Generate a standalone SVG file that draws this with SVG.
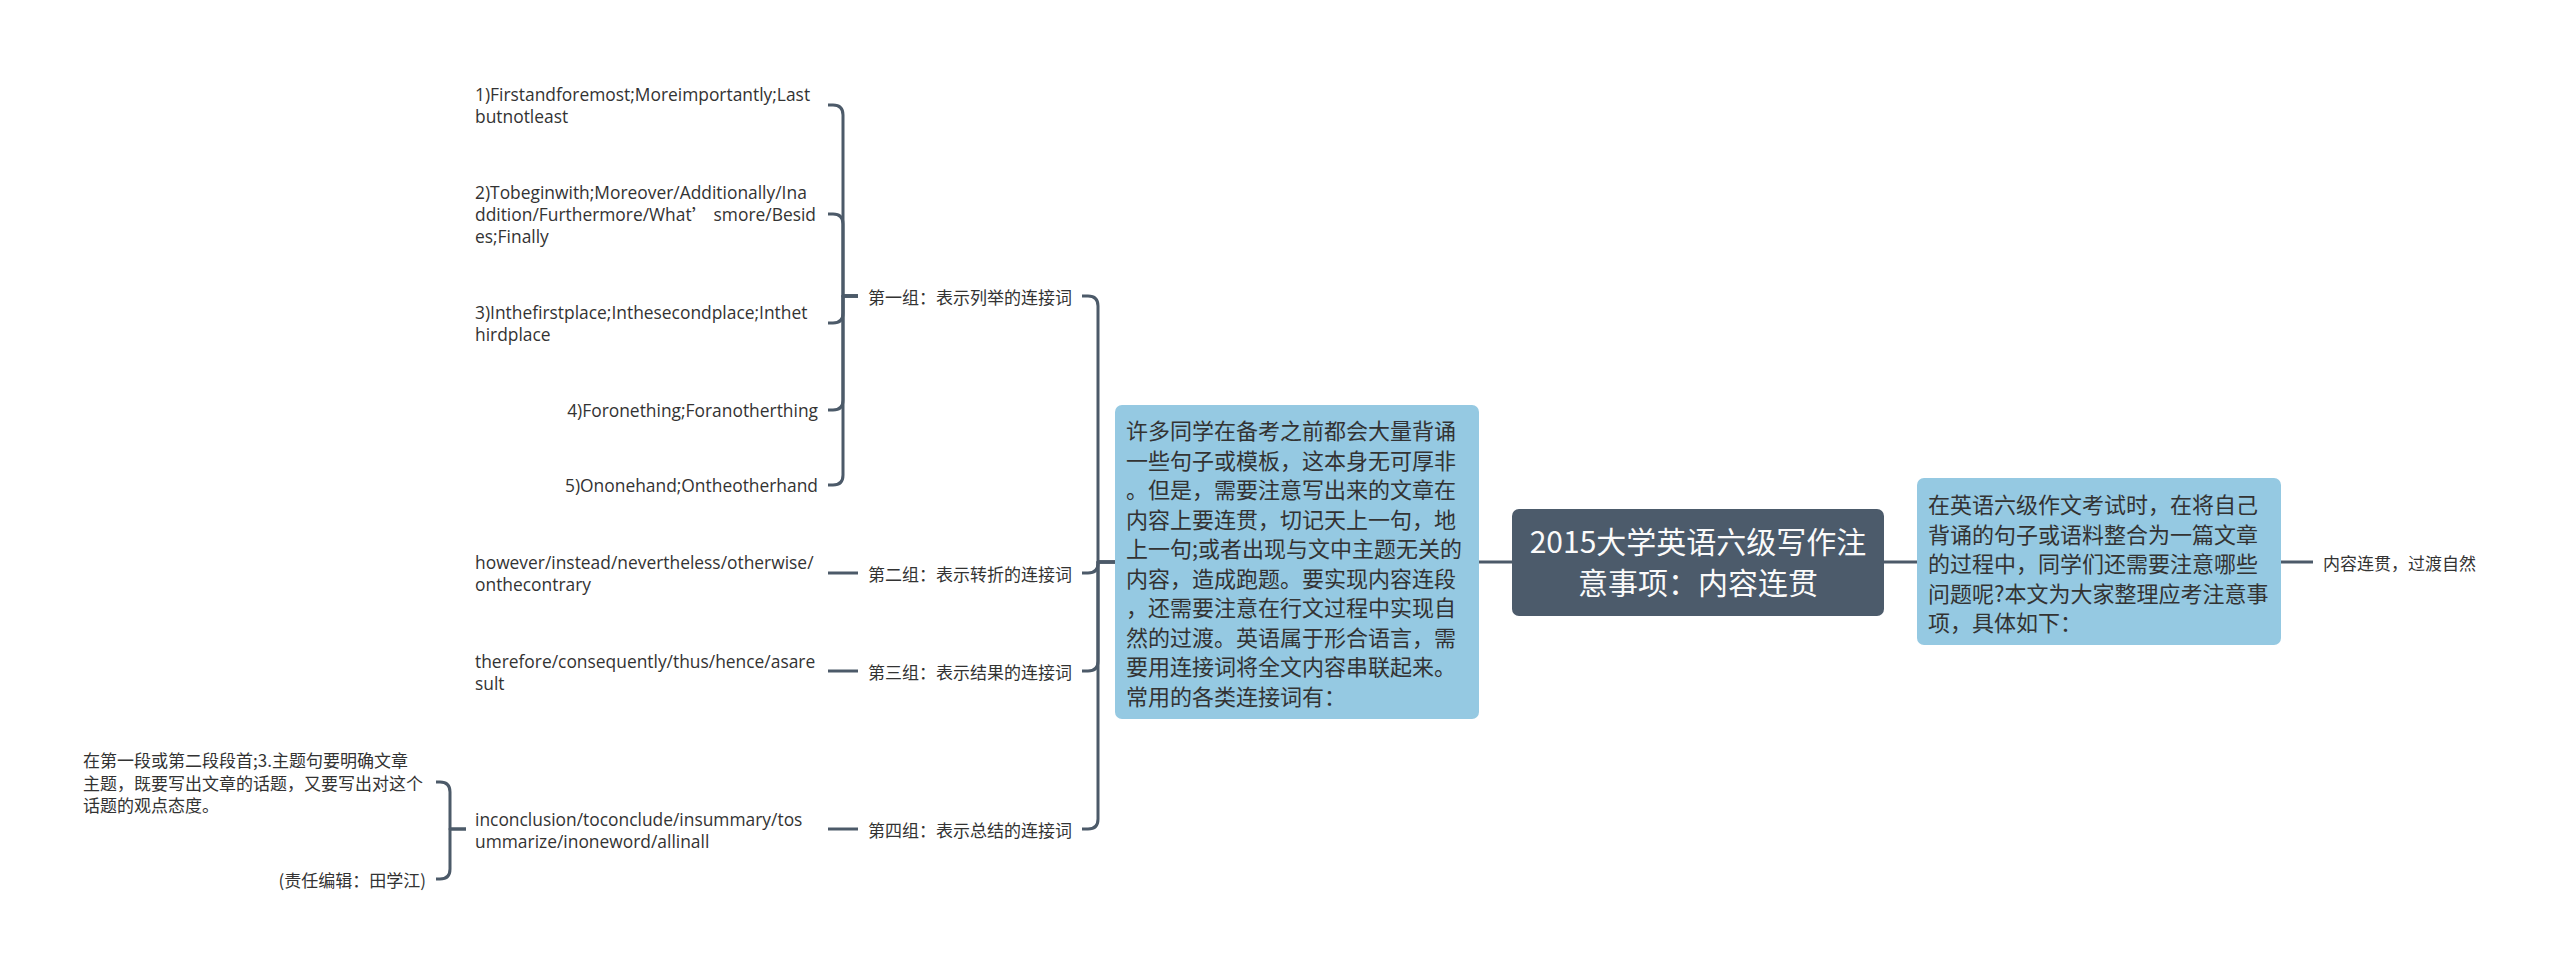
<svg xmlns="http://www.w3.org/2000/svg" width="2560" height="972" viewBox="0 0 2560 972">
<style>
.ln{fill:none;stroke:#4c5a69;stroke-width:3;stroke-linejoin:round}
.cn{font-family:"Noto Sans CJK SC",sans-serif;font-size:17px;fill:#333;dominant-baseline:central}
.en{font-family:"Open Sans","Noto Sans CJK SC",sans-serif;font-size:17.4px;fill:#333;dominant-baseline:central}
.bt{font-family:"Noto Sans CJK SC",sans-serif;font-size:22px;fill:#333;dominant-baseline:central}
.ct{font-family:"Noto Sans CJK SC",sans-serif;font-size:30px;fill:#fafafa;dominant-baseline:central;text-anchor:middle}
.blue{fill:#95c9e2}
.dark{fill:#4c5b6b}
.r{text-anchor:end}
</style>
<rect width="2560" height="972" fill="#ffffff"/>
<g id="connectors">
<path class="ln" d="M1479,562 H1512"/>
<path class="ln" d="M1884,562 H1917"/>
<path class="ln" d="M2281,562 H2313"/>
<path class="ln" d="M1115,562 H1098 V306 Q1098,296 1088,296 H1082"/>
<path class="ln" d="M1115,562 H1098 V563 Q1098,573 1088,573 H1082"/>
<path class="ln" d="M1115,562 H1098 V661 Q1098,671 1088,671 H1082"/>
<path class="ln" d="M1115,562 H1098 V819 Q1098,829 1088,829 H1082"/>
<path class="ln" d="M858,296 H843 V115 Q843,105 833,105 H828"/>
<path class="ln" d="M858,296 H843 V224 Q843,214 833,214 H828"/>
<path class="ln" d="M858,296 H843 V313 Q843,323 833,323 H828"/>
<path class="ln" d="M858,296 H843 V400 Q843,410 833,410 H828"/>
<path class="ln" d="M858,296 H843 V475 Q843,485 833,485 H828"/>
<path class="ln" d="M828,573 H858"/>
<path class="ln" d="M828,671 H858"/>
<path class="ln" d="M828,829 H858"/>
<path class="ln" d="M466,829 H450 V792 Q450,782 440,782 H436"/>
<path class="ln" d="M466,829 H450 V869 Q450,879 440,879 H436"/>
</g>
<g id="root">
<rect class="dark" x="1512" y="509" width="372" height="107" rx="7"/>
<text class="ct" x="1698" y="540">2015大学英语六级写作注</text>
<text class="ct" x="1698" y="581">意事项：内容连贯</text>
</g>
<g id="intro-left">
<rect class="blue" x="1115" y="405" width="364" height="314" rx="7"/>
<text class="bt" x="1126" y="429">许多同学在备考之前都会大量背诵</text>
<text class="bt" x="1126" y="458.5">一些句子或模板，这本身无可厚非</text>
<text class="bt" x="1126" y="488">。但是，需要注意写出来的文章在</text>
<text class="bt" x="1126" y="517.5">内容上要连贯，切记天上一句，地</text>
<text class="bt" x="1126" y="547">上一句;或者出现与文中主题无关的</text>
<text class="bt" x="1126" y="576.5">内容，造成跑题。要实现内容连段</text>
<text class="bt" x="1126" y="606">，还需要注意在行文过程中实现自</text>
<text class="bt" x="1126" y="635.5">然的过渡。英语属于形合语言，需</text>
<text class="bt" x="1126" y="665">要用连接词将全文内容串联起来。</text>
<text class="bt" x="1126" y="694.5">常用的各类连接词有：</text>
</g>
<g id="intro-right">
<rect class="blue" x="1917" y="478" width="364" height="167" rx="7"/>
<text class="bt" x="1928" y="503">在英语六级作文考试时，在将自己</text>
<text class="bt" x="1928" y="532.5">背诵的句子或语料整合为一篇文章</text>
<text class="bt" x="1928" y="562">的过程中，同学们还需要注意哪些</text>
<text class="bt" x="1928" y="591.5">问题呢?本文为大家整理应考注意事</text>
<text class="bt" x="1928" y="621">项，具体如下：</text>
</g>
<g id="right-label">
<text class="cn" x="2323" y="562">内容连贯，过渡自然</text>
</g>
<g id="group1">
<text class="cn" x="868" y="296">第一组：表示列举的连接词</text>
</g>
<g id="group2">
<text class="cn" x="868" y="573">第二组：表示转折的连接词</text>
</g>
<g id="group3">
<text class="cn" x="868" y="671">第三组：表示结果的连接词</text>
</g>
<g id="group4">
<text class="cn" x="868" y="829">第四组：表示总结的连接词</text>
</g>
<g id="item1">
<text class="en" x="475" y="94">1)Firstandforemost;Moreimportantly;Last</text>
<text class="en" x="475" y="116">butnotleast</text>
</g>
<g id="item2">
<text class="en" x="475" y="192">2)Tobeginwith;Moreover/Additionally/Ina</text>
<text class="en" x="475" y="214">ddition/Furthermore/What<tspan font-family="Noto Sans CJK SC">’</tspan> smore/Besid</text>
<text class="en" x="475" y="236">es;Finally</text>
</g>
<g id="item3">
<text class="en" x="475" y="312">3)Inthefirstplace;Inthesecondplace;Inthet</text>
<text class="en" x="475" y="334">hirdplace</text>
</g>
<g id="item4">
<text class="en r" x="818" y="410">4)Foronething;Foranotherthing</text>
</g>
<g id="item5">
<text class="en r" x="818" y="485">5)Ononehand;Ontheotherhand</text>
</g>
<g id="item-g2">
<text class="en" x="475" y="562">however/instead/nevertheless/otherwise/</text>
<text class="en" x="475" y="584">onthecontrary</text>
</g>
<g id="item-g3">
<text class="en" x="475" y="661">therefore/consequently/thus/hence/asare</text>
<text class="en" x="475" y="683">sult</text>
</g>
<g id="item-g4">
<text class="en" x="475" y="819">inconclusion/toconclude/insummary/tos</text>
<text class="en" x="475" y="841">ummarize/inoneword/allinall</text>
</g>
<g id="note1">
<text class="cn" x="83" y="759">在第一段或第二段段首;3.主题句要明确文章</text>
<text class="cn" x="83" y="782">主题，既要写出文章的话题，又要写出对这个</text>
<text class="cn" x="83" y="804">话题的观点态度。</text>
</g>
<g id="note2">
<text class="cn r" x="426" y="879">(责任编辑：田学江)</text>
</g>
</svg>
